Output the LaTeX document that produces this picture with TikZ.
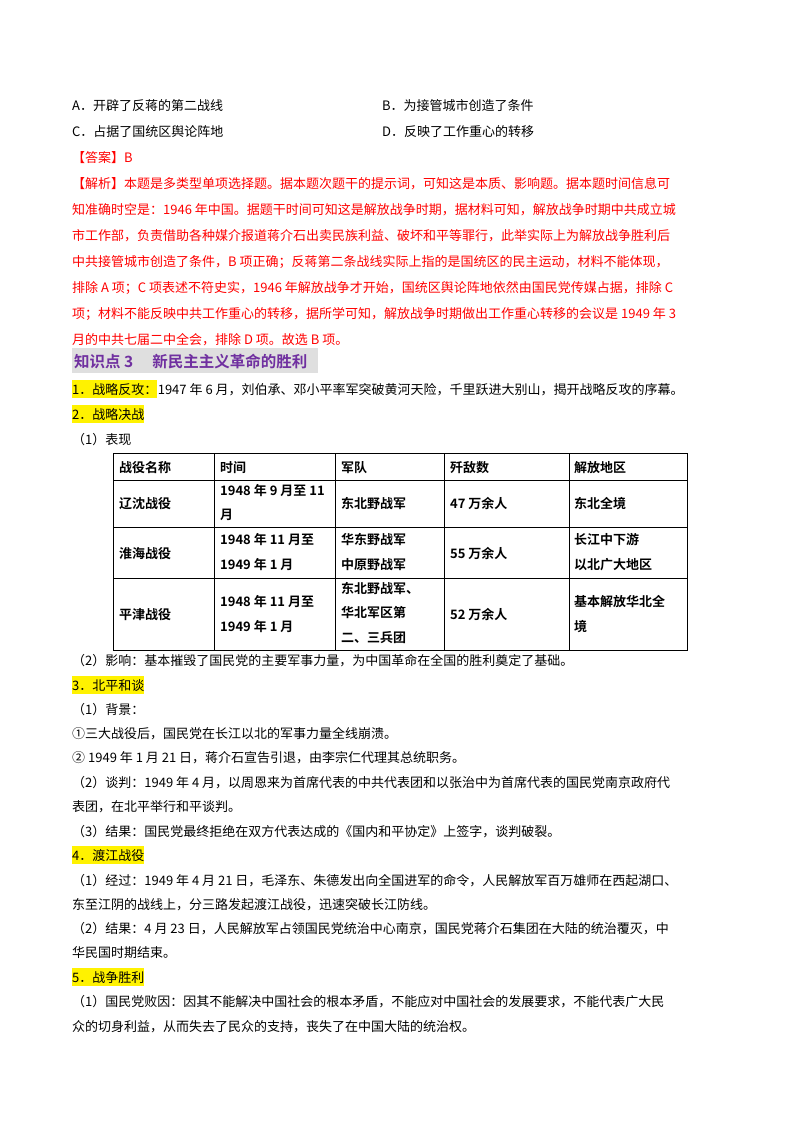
\documentclass[tikz,border=0pt]{standalone}
\usepackage{fontspec}
\setmainfont{Noto Sans CJK SC}[BoldFont={Noto Sans CJK SC Bold}]
\begin{document}
\begin{tikzpicture}[x=1pt,y=-1pt,
  t/.style={anchor=base west,inner sep=0pt,font=\fontsize{13pt}{15pt}\selectfont},
  r/.style={t,text=red},
  hl/.style={t,fill=yellow,inner ysep=3pt},
  cell/.style={anchor=base west,inner sep=0pt,font=\fontsize{13pt}{15pt}\selectfont\bfseries}]
\useasboundingbox (0,0) rectangle (800,1132);
\node[t] (a) at (72,110) {A．开辟了反蒋的第二战线};
\node[t] (b) at (382,110) {B．为接管城市创造了条件};
\node[t] (c) at (72,136) {C．占据了国统区舆论阵地};
\node[t] (d) at (382,136) {D．反映了工作重心的转移};
\node[r] (ans) at (72,162) {【答案】B};
\node[r] (j1) at (72,188) {【解析】本题是多类型单项选择题。据本题次题干的提示词，可知这是本质、影响题。据本题时间信息可};
\node[r] (j2) at (72,214) {知准确时空是：1946 年中国。据题干时间可知这是解放战争时期，据材料可知，解放战争时期中共成立城};
\node[r] (j3) at (72,240) {市工作部，负责借助各种媒介报道蒋介石出卖民族利益、破坏和平等罪行，此举实际上为解放战争胜利后};
\node[r] (j4) at (72,266) {中共接管城市创造了条件，B 项正确；反蒋第二条战线实际上指的是国统区的民主运动，材料不能体现，};
\node[r] (j5) at (72,292) {排除 A 项；C 项表述不符史实，1946 年解放战争才开始，国统区舆论阵地依然由国民党传媒占据，排除 C};
\node[r] (j6) at (72,318) {项；材料不能反映中共工作重心的转移，据所学可知，解放战争时期做出工作重心转移的会议是 1949 年 3};
\node[r] (j7) at (72,344) {月的中共七届二中全会，排除 D 项。故选 B 项。};
\fill[gray!25] (72,348) rectangle (318,373);
\node[anchor=base west,inner sep=0pt,font=\fontsize{15.5pt}{17pt}\selectfont\bfseries,text={rgb,255:red,112;green,48;blue,160}] (h) at (74,367) {知识点 3\quad\ 新民主主义革命的胜利};
\node[hl] (p1a) at (72,394) {1．战略反攻：};
\node[t] (p1) at (p1a.base east) {1947 年 6 月，刘伯承、邓小平率军突破黄河天险，千里跃进大别山，揭开战略反攻的序幕。};
\node[hl] (p2) at (72,419) {2．战略决战};
\node[t] (p3) at (72,444) {（1）表现};
% table
\draw[line width=0.8pt] (113,453) rectangle (687,650);
\foreach \y in {480,527,578} \draw[line width=0.8pt] (113,\y) -- (687,\y);
\foreach \x in {214,335,444,569} \draw[line width=0.8pt] (\x,453) -- (\x,650);
\node[cell] (c11) at (119,472) {战役名称};
\node[cell] (c12) at (220,472) {时间};
\node[cell] (c13) at (341,472) {军队};
\node[cell] (c14) at (450,472) {歼敌数};
\node[cell] (c15) at (574,472) {解放地区};
\node[cell] (c21) at (119,508) {辽沈战役};
\node[cell] (c22a) at (220,495) {1948 年 9 月至 11};
\node[cell] (c22b) at (220,519) {月};
\node[cell] (c23) at (341,508) {东北野战军};
\node[cell] (c24) at (450,508) {47 万余人};
\node[cell] (c25) at (574,508) {东北全境};
\node[cell] (c31) at (119,558) {淮海战役};
\node[cell] (c32a) at (220,544) {1948 年 11 月至};
\node[cell] (c32b) at (220,569) {1949 年 1 月};
\node[cell] (c33a) at (341,544) {华东野战军};
\node[cell] (c33b) at (341,569) {中原野战军};
\node[cell] (c34) at (450,558) {55 万余人};
\node[cell] (c35a) at (574,544) {长江中下游};
\node[cell] (c35b) at (574,569) {以北广大地区};
\node[cell] (c41) at (119,619) {平津战役};
\node[cell] (c42a) at (220,606) {1948 年 11 月至};
\node[cell] (c42b) at (220,631) {1949 年 1 月};
\node[cell] (c43a) at (341,593) {东北野战军、};
\node[cell] (c43b) at (341,617) {华北军区第};
\node[cell] (c43c) at (341,642) {二、三兵团};
\node[cell] (c44) at (450,619) {52 万余人};
\node[cell] (c45a) at (574,606) {基本解放华北全};
\node[cell] (c45b) at (574,631) {境};
\node[t] (q1) at (72,665) {（2）影响：基本摧毁了国民党的主要军事力量，为中国革命在全国的胜利奠定了基础。};
\node[hl] (q2) at (72,690) {3．北平和谈};
\node[t] (q3) at (72,714) {（1）背景：};
\node[t] (q4) at (72,738) {①三大战役后，国民党在长江以北的军事力量全线崩溃。};
\node[t] (q5) at (72,762) {② 1949 年 1 月 21 日，蒋介石宣告引退，由李宗仁代理其总统职务。};
\node[t] (q6) at (72,787) {（2）谈判：1949 年 4 月，以周恩来为首席代表的中共代表团和以张治中为首席代表的国民党南京政府代};
\node[t] (q7) at (72,811) {表团，在北平举行和平谈判。};
\node[t] (q8) at (72,836) {（3）结果：国民党最终拒绝在双方代表达成的《国内和平协定》上签字，谈判破裂。};
\node[hl] (q9) at (72,860) {4．渡江战役};
\node[t] (q10) at (72,885) {（1）经过：1949 年 4 月 21 日，毛泽东、朱德发出向全国进军的命令，人民解放军百万雄师在西起湖口、};
\node[t] (q11) at (72,909) {东至江阴的战线上，分三路发起渡江战役，迅速突破长江防线。};
\node[t] (q12) at (72,933) {（2）结果：4 月 23 日，人民解放军占领国民党统治中心南京，国民党蒋介石集团在大陆的统治覆灭，中};
\node[t] (q13) at (72,957) {华民国时期结束。};
\node[hl] (q14) at (72,982) {5．战争胜利};
\node[t] (q15) at (72,1006) {（1）国民党败因：因其不能解决中国社会的根本矛盾，不能应对中国社会的发展要求，不能代表广大民};
\node[t] (q16) at (72,1031) {众的切身利益，从而失去了民众的支持，丧失了在中国大陆的统治权。};
\end{tikzpicture}
\end{document}
